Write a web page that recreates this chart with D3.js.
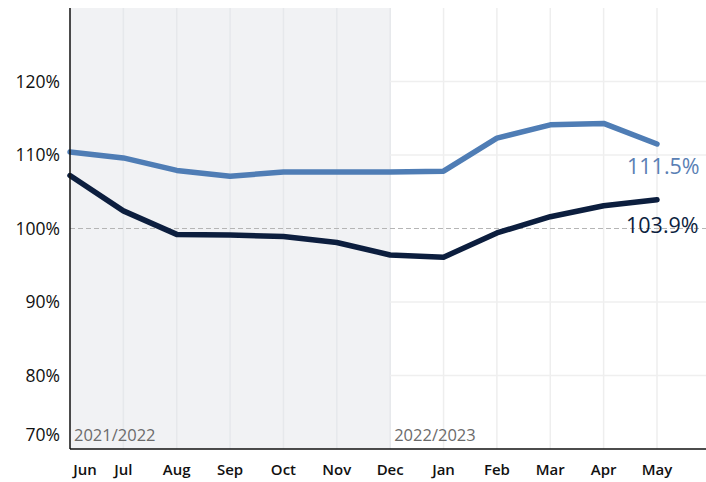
<!DOCTYPE html>
<html>
<head>
<meta charset="utf-8">
<script src="https://cdn.jsdelivr.net/npm/d3@7"></script>
<style>
  html, body { margin: 0; padding: 0; background: #ffffff; }
  svg { display: block; font-family: "Open Sans", "Liberation Sans", sans-serif; }
</style>
</head>
<body>
<svg id="chart" width="706" height="482"></svg>
<script>
// Monthly categories, June to May
const months = ["Jun", "Jul", "Aug", "Sep", "Oct", "Nov", "Dec", "Jan", "Feb", "Mar", "Apr", "May"];
// Upper series (light blue), percent
const seriesUpper = [110.4, 109.6, 107.9, 107.1, 107.7, 107.7, 107.7, 107.8, 112.3, 114.1, 114.3, 111.5];
// Lower series (dark navy), percent
const seriesLower = [107.2, 102.4, 99.2, 99.1, 98.9, 98.1, 96.4, 96.1, 99.4, 101.6, 103.1, 103.9];
// Y tick values and labels
const yTicks = [70, 80, 90, 100, 110, 120];
const yTickLabels = ["70%", "80%", "90%", "100%", "110%", "120%"];
// Season labels
const seasons = ["2021/2022", "2022/2023"];
const seasonStart = ["Jun", "Dec"];
// End labels
const endLabels = ["111.5%", "103.9%"];

const svg = d3.select("#chart");
const plotLeft = 70, plotRight = 657, plotTop = 8, plotBottom = 449;

const x = d3.scalePoint().domain(months).range([plotLeft, plotRight]);
const y = d3.scaleLinear().domain([70, 130]).range([plotBottom, plotTop]);

// Shaded first season
svg.append("rect")
  .attr("x", plotLeft).attr("y", plotTop)
  .attr("width", x("Dec") - plotLeft).attr("height", plotBottom - plotTop)
  .attr("fill", "#f1f2f4");

// Vertical gridlines
svg.append("g").selectAll("line")
  .data(months.slice(1))
  .join("line")
  .attr("x1", d => x(d)).attr("x2", d => x(d))
  .attr("y1", plotTop).attr("y2", plotBottom)
  .attr("stroke", d => x(d) <= x("Dec") ? "#e6e8eb" : "#eeeeee")
  .attr("stroke-width", 1.5);

// Horizontal gridlines (white area)
svg.append("g").selectAll("line")
  .data(yTicks.filter(v => v !== 100 && v !== 70))
  .join("line")
  .attr("x1", x("Dec")).attr("x2", 706)
  .attr("y1", d => y(d)).attr("y2", d => y(d))
  .attr("stroke", "#efefef")
  .attr("stroke-width", 1.5);

// Reference line at 100%
svg.append("line")
  .attr("x1", plotLeft).attr("x2", 706)
  .attr("y1", y(100)).attr("y2", y(100))
  .attr("stroke", "#b5b5b5")
  .attr("stroke-width", 1)
  .attr("stroke-dasharray", "5,3");

// Season labels
svg.append("g").selectAll("text")
  .data(seasons)
  .join("text")
  .attr("x", (d, i) => x(seasonStart[i]) + 4)
  .attr("y", 441)
  .attr("fill", "#6b6b6b")
  .attr("font-size", 16.5)
  .text(d => d);

// Lines
const line = d3.line()
  .x((d, i) => x(months[i]))
  .y(d => y(d));

svg.append("path")
  .datum(seriesUpper)
  .attr("d", line)
  .attr("fill", "none")
  .attr("stroke", "#4f7db5")
  .attr("stroke-width", 5.5)
  .attr("stroke-linejoin", "round")
  .attr("stroke-linecap", "round");

svg.append("path")
  .datum(seriesLower)
  .attr("d", line)
  .attr("fill", "none")
  .attr("stroke", "#0c1e3e")
  .attr("stroke-width", 5.5)
  .attr("stroke-linejoin", "round")
  .attr("stroke-linecap", "round");

// End value labels
svg.append("text")
  .attr("x", 627).attr("y", y(seriesUpper[11]) + 30)
  .attr("fill", "#5a80b4")
  .attr("font-size", 21.5)
  .attr("font-weight", 500)
  .text(endLabels[0]);

svg.append("text")
  .attr("x", 626).attr("y", y(seriesLower[11]) + 33)
  .attr("fill", "#0c1e3e")
  .attr("font-size", 21.5)
  .attr("font-weight", 500)
  .text(endLabels[1]);

// Y axis labels
svg.append("g").selectAll("text")
  .data(yTicks)
  .join("text")
  .attr("x", 60)
  .attr("y", d => d === 70 ? y(d) - 8 : y(d) + 6)
  .attr("text-anchor", "end")
  .attr("fill", "#111")
  .attr("font-size", 17.5)
  .attr("font-weight", 500)
  .text((d, i) => yTickLabels[i]);

// X axis labels
svg.append("g").selectAll("text")
  .data(months)
  .join("text")
  .attr("x", d => d === "Jun" ? x(d) + 15 : x(d))
  .attr("y", 475)
  .attr("text-anchor", "middle")
  .attr("fill", "#111")
  .attr("font-size", 15)
  .attr("font-weight", 600)
  .text(d => d);

// Axes lines
svg.append("line")
  .attr("x1", plotLeft).attr("x2", plotLeft)
  .attr("y1", plotTop).attr("y2", plotBottom)
  .attr("stroke", "#111").attr("stroke-width", 1.5);
svg.append("line")
  .attr("x1", plotLeft).attr("x2", 706)
  .attr("y1", plotBottom).attr("y2", plotBottom)
  .attr("stroke", "#111").attr("stroke-width", 1.5);
</script>
</body>
</html>
